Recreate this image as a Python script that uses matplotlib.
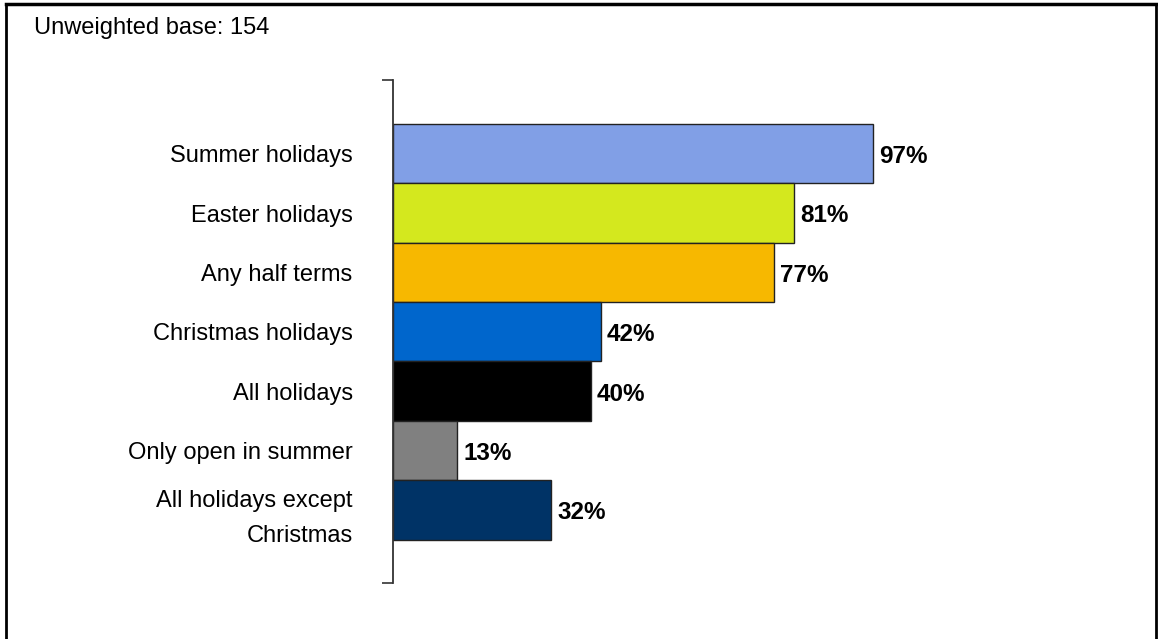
import matplotlib
matplotlib.use("Agg")
import matplotlib.pyplot as plt
from matplotlib.lines import Line2D

categories = ["Summer holidays", "Easter holidays", "Any half terms", "Christmas holidays",
              "All holidays", "Only open in summer", "All holidays except\nChristmas"]
values = [97, 81, 77, 42, 40, 13, 32]
bar_colors = ["#819FE6", "#D4E81E", "#F7B800", "#0066CC", "#000000", "#808080", "#003366"]
base_note = "Unweighted base: 154"

plt.rcParams['font.family'] = ['Liberation Sans', 'DejaVu Sans']

fig = plt.figure(figsize=(11.58, 6.39), dpi=100)
ax = fig.add_axes([393/1158, 56/639, 495/1158, 503/639])

y = list(range(len(categories)))
ax.barh(y, values, height=1.0, color=bar_colors, edgecolor="#222222", linewidth=1.0)
ax.set_xlim(0, 100)
ax.set_ylim(6.5 + 0.73, -0.5 - 0.74)

for yi, v in zip(y, values):
    ax.text(v + 1.2, yi + 0.05, f"{v}%", va="center", ha="left",
            fontsize=17.5, fontweight="bold", color="black")

ax.set_yticks(y)
ax.set_yticklabels(categories, fontsize=17, linespacing=1.75)
ax.tick_params(axis="y", which="major", length=0, pad=29)
ax.set_yticks([6.5 + 0.73, -0.5 - 0.74], minor=True)
ax.tick_params(axis="y", which="minor", length=8, width=1.2, direction="out", color="#333333")
ax.xaxis.set_visible(False)
for s in ["top", "right", "bottom"]:
    ax.spines[s].set_visible(False)
ax.spines["left"].set_color("#333333")
ax.spines["left"].set_linewidth(1.3)

fig.text(34/1158, 1 - 28/639, base_note, fontsize=17, ha="left", va="center")

# outer frame
fig.add_artist(Line2D([6/1158, 6/1158], [0, 1 - 4/639], transform=fig.transFigure, color="black", lw=2))
fig.add_artist(Line2D([6/1158, 1156/1158], [1 - 4/639, 1 - 4/639], transform=fig.transFigure, color="black", lw=2.5))
fig.add_artist(Line2D([1156/1158, 1156/1158], [0, 1 - 4/639], transform=fig.transFigure, color="black", lw=2))

fig.savefig("out.png", dpi=100)
